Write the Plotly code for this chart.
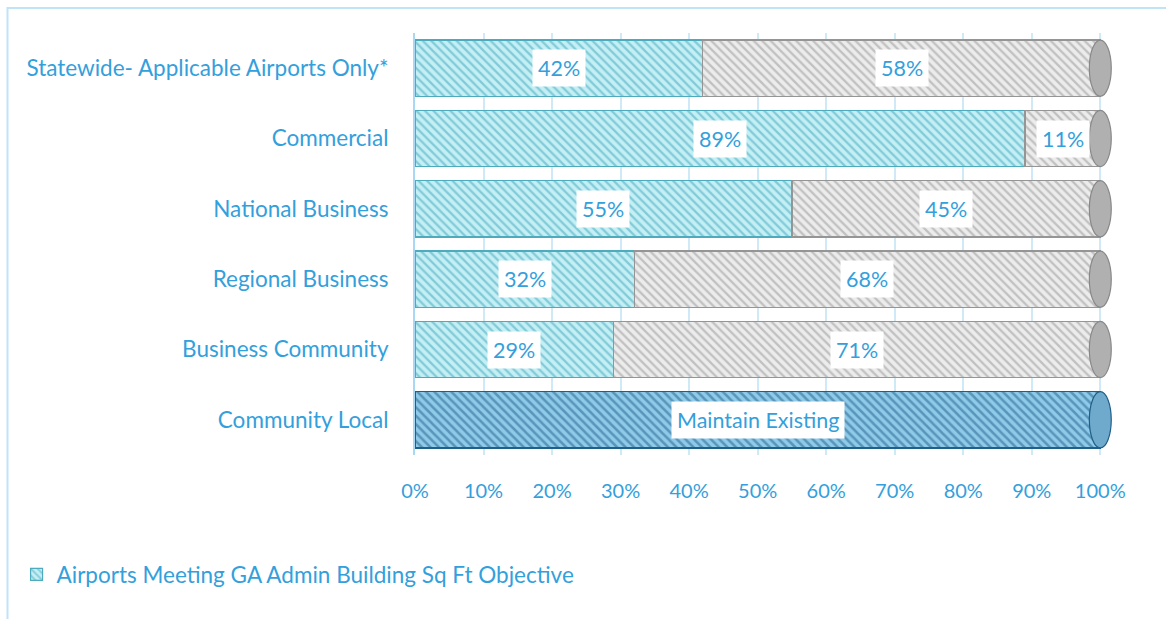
import plotly.graph_objects as go

# Airport categories, bottom to top
categories = [
    "Community Local",
    "Business Community",
    "Regional Business",
    "National Business",
    "Commercial",
    "Statewide- Applicable Airports Only*",
]
# Share of airports meeting / not meeting the GA admin building objective (%)
meeting = [None, 29, 32, 55, 89, 42]
not_meeting = [None, 71, 68, 45, 11, 58]
# Community Local airports only need to maintain existing facilities
maintain = [100, None, None, None, None, None]
maintain_label = "Maintain Existing"

legend_name = "Airports Meeting GA Admin Building Sq Ft Objective"
tick_vals = list(range(0, 101, 10))
tick_text = [f"{v}%" for v in tick_vals]

TEXT_BLUE = "#33a0dc"
LABEL_FONT = dict(family="Lato", size=22.5, color=TEXT_BLUE)
BOX_FONT = dict(family="Lato", size=21.5, color=TEXT_BLUE)
TICK_FONT = dict(family="Lato", size=20, color=TEXT_BLUE)

fig = go.Figure()

fig.add_trace(go.Bar(
    y=categories, x=meeting, orientation="h", name=legend_name,
    marker=dict(
        color="#c4eff5",
        line=dict(color="#4eaabd", width=1.2),
        pattern=dict(shape="\\", fgcolor="#3fa6ba", size=6, solidity=0.38, fillmode="overlay"),
    ),
    showlegend=True, hoverinfo="skip",
))
fig.add_trace(go.Bar(
    y=categories, x=not_meeting, orientation="h", name="Not Meeting",
    marker=dict(
        color="#ececec",
        line=dict(color="#959595", width=1.2),
        pattern=dict(shape="\\", fgcolor="#969696", size=6, solidity=0.38, fillmode="overlay"),
    ),
    showlegend=False, hoverinfo="skip",
))
fig.add_trace(go.Bar(
    y=categories, x=maintain, orientation="h", name=maintain_label,
    marker=dict(
        color="#8fcbe9",
        line=dict(color="#1f5f88", width=1.5),
        pattern=dict(shape="\\", fgcolor="#245f8a", size=6, solidity=0.42, fillmode="overlay"),
    ),
    showlegend=False, hoverinfo="skip",
))

# Cylinder end caps at the right end of each bar
for i, cat in enumerate(categories):
    total = (meeting[i] or 0) + (not_meeting[i] or 0) + (maintain[i] or 0)
    is_maintain = maintain[i] is not None
    fig.add_shape(
        type="circle", xref="x", yref="y",
        x0=total - 1.6, x1=total + 1.6, y0=i - 0.4, y1=i + 0.4,
        fillcolor="#6fa9cc" if is_maintain else "#b0b0b0",
        line=dict(color="#1f5f88" if is_maintain else "#888888", width=1.2),
        layer="above",
    )

# Value labels in white boxes
def add_label(x, y, text):
    fig.add_annotation(
        x=x, y=y, xref="x", yref="y", text=text, showarrow=False,
        font=BOX_FONT, bgcolor="white", borderpad=5,
    )

for i, cat in enumerate(categories):
    if meeting[i] is not None:
        add_label(meeting[i] / 2, cat, f"{meeting[i]}%")
        add_label(meeting[i] + not_meeting[i] / 2, cat, f"{not_meeting[i]}%")
    if maintain[i] is not None:
        add_label(maintain[i] / 2, cat, maintain_label)

# Light blue outer frame
fig.add_shape(
    type="rect", xref="paper", yref="paper",
    x0=-0.583, x1=1.08, y0=-0.45, y1=1.059,
    line=dict(color="#bfe3f7", width=2), fillcolor="rgba(0,0,0,0)", layer="below",
)

fig.update_layout(
    width=1166, height=619,
    margin=dict(l=415, r=52, t=33, b=164),
    barmode="stack", bargap=0.2,
    paper_bgcolor="white", plot_bgcolor="white",
    font=LABEL_FONT,
    showlegend=True,
    legend=dict(
        x=-0.57, y=-0.284, xanchor="left", yanchor="middle",
        font=LABEL_FONT,
        itemwidth=30, bgcolor="rgba(0,0,0,0)",
    ),
    xaxis=dict(
        range=[0, 102], tickvals=tick_vals, ticktext=tick_text,
        showgrid=True, gridcolor="#cfe9f7", gridwidth=1.5,
        zeroline=False, showline=False, ticks="",
        ticklabelstandoff=22, tickfont=TICK_FONT, fixedrange=True,
    ),
    yaxis=dict(
        categoryorder="array", categoryarray=categories,
        showgrid=False, zeroline=False,
        showline=True, linecolor="#a9d8f3", linewidth=2,
        ticks="", ticklabelstandoff=20, tickfont=LABEL_FONT, fixedrange=True,
    ),
)

fig.write_html("out.html")
